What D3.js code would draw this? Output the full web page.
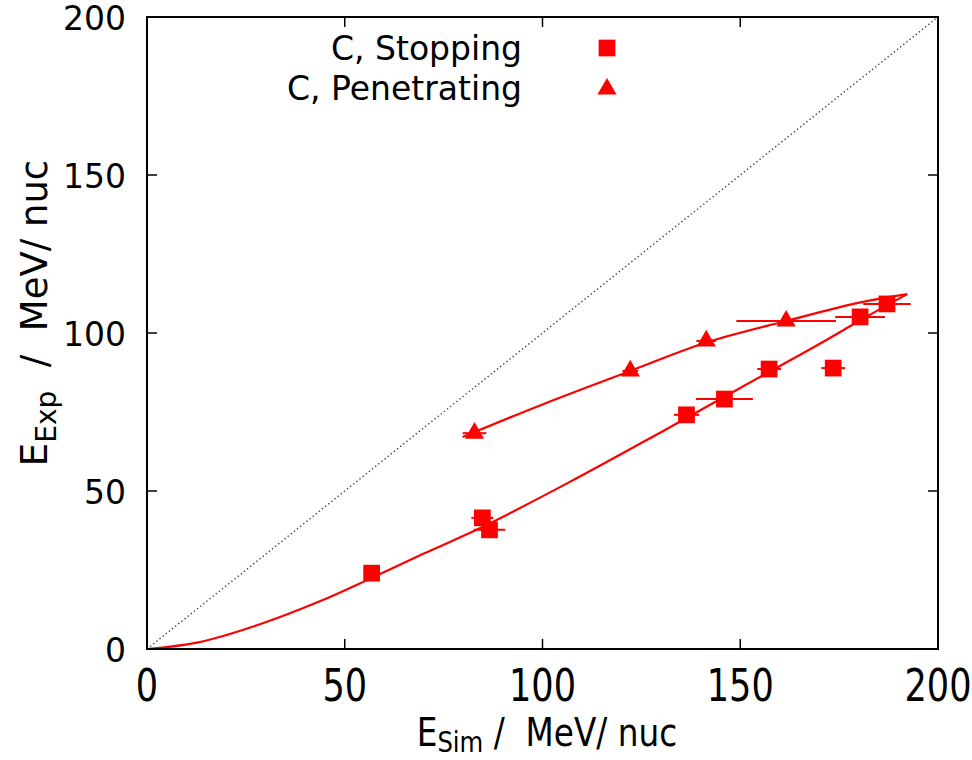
<!DOCTYPE html>
<html>
<head>
<meta charset="utf-8">
<script src="https://cdn.jsdelivr.net/npm/d3@7"></script>
<style>
  body { margin: 0; background: #fff; }
  text { font-family: "DejaVu Sans", sans-serif; white-space: pre; }
</style>
</head>
<body>
<svg id="chart" width="972" height="760"></svg>
<script>
// stopping ions (squares)
const stopX = [56.8, 84.8, 86.6, 136.4, 146.0, 157.3, 173.5, 180.3, 187.1];
const stopY = [24.0, 41.5, 37.7, 74.1, 79.1, 88.6, 88.9, 105.1, 109.2];
const stopXErr = [1.2, 2.8, 4.0, 3.2, 7.2, 3.0, 3.0, 6.3, 6.0];
const stopYErr = [0.8, 0.8, 0.8, 0.8, 0.8, 0.8, 0.8, 1.0, 1.5];

// penetrating ions (triangles)
const penX = [82.8, 122.2, 141.4, 161.6];
const penY = [68.3, 88.0, 97.5, 103.8];
const penXErr = [3.0, 2.0, 2.5, 12.6];
const penYErr = [1.2, 1.2, 1.6, 1.6];

// fit curves
const stopFitX = [0, 12.6, 28, 43.7, 56.8, 70, 84.8, 106.8, 129.5, 150, 170, 181, 192.2];
const stopFitY = [0, 2.0, 7.6, 15.1, 22.5, 30.2, 38.6, 52.8, 68.3, 82.6, 96.5, 104.5, 112.3];
const penFitX = [79.8, 100, 122.2, 141.4, 161.6, 180.1, 192.2];
const penFitY = [67.1, 77.4, 88.0, 97.0, 103.8, 109.6, 112.3];

const xTicks = [0, 50, 100, 150, 200];
const yTicks = [0, 50, 100, 150, 200];
const legendLabels = ["C, Stopping", "C, Penetrating"];

const red = "#ff0000";
const pL = 147, pR = 938, pT = 17, pB = 649;

const svg = d3.select('#chart');
const x = d3.scaleLinear().domain([0, 200]).range([pL, pR]);
const y = d3.scaleLinear().domain([0, 200]).range([pB, pT]);

// diagonal
svg.append('line')
  .attr('x1', x(0)).attr('y1', y(0)).attr('x2', x(200)).attr('y2', y(200))
  .attr('stroke', '#444').attr('stroke-width', 1.4).attr('stroke-dasharray', '1.4,2.6');

// fit curves
const line = d3.line().x(d => x(d[0])).y(d => y(d[1])).curve(d3.curveCatmullRom);
svg.append('path').datum(d3.zip(stopFitX, stopFitY))
  .attr('d', line).attr('fill', 'none').attr('stroke', red).attr('stroke-width', 2.2);
svg.append('path').datum(d3.zip(penFitX, penFitY))
  .attr('d', line).attr('fill', 'none').attr('stroke', red).attr('stroke-width', 2.2);

function errorBars(xs, ys, xe, ye){
  let g = svg.append('g').attr('stroke', red).attr('stroke-width', 2);
  xs.forEach((v, i) => {
    g.append('line').attr('x1', x(v - xe[i])).attr('x2', x(v + xe[i]))
      .attr('y1', y(ys[i])).attr('y2', y(ys[i]));
    g.append('line').attr('x1', x(v)).attr('x2', x(v))
      .attr('y1', y(ys[i] - ye[i])).attr('y2', y(ys[i] + ye[i]));
  });
}
errorBars(stopX, stopY, stopXErr, stopYErr);
errorBars(penX, penY, penXErr, penYErr);

const sq = d3.symbol().type(d3.symbolSquare).size(280);
const tri = d3.symbol().type(d3.symbolTriangle).size(160);

svg.append('g').selectAll('path').data(d3.zip(stopX, stopY)).join('path')
  .attr('d', sq).attr('fill', red)
  .attr('transform', d => `translate(${x(d[0])},${y(d[1])})`);
svg.append('g').selectAll('path').data(d3.zip(penX, penY)).join('path')
  .attr('d', tri).attr('fill', red)
  .attr('transform', d => `translate(${x(d[0])},${y(d[1])})`);

// frame + ticks (inward, all four sides)
svg.append('rect').attr('x', pL).attr('y', pT)
  .attr('width', pR - pL).attr('height', pB - pT)
  .attr('fill', 'none').attr('stroke', '#000').attr('stroke-width', 2);
const tk = svg.append('g').attr('stroke', '#000').attr('stroke-width', 1.5);
xTicks.slice(1, -1).forEach(t => {
  tk.append('line').attr('x1', x(t)).attr('x2', x(t)).attr('y1', pB).attr('y2', pB - 10);
  tk.append('line').attr('x1', x(t)).attr('x2', x(t)).attr('y1', pT).attr('y2', pT + 10);
});
yTicks.slice(1, -1).forEach(t => {
  tk.append('line').attr('y1', y(t)).attr('y2', y(t)).attr('x1', pL).attr('x2', pL + 10);
  tk.append('line').attr('y1', y(t)).attr('y2', y(t)).attr('x1', pR).attr('x2', pR - 10);
});

// tick labels
svg.append('g').selectAll('text').data(yTicks).join('text')
  .attr('x', 126).attr('y', d => y(d) + 1).attr('dy', '0.36em')
  .attr('text-anchor', 'end').attr('font-size', 33).text(d => d);
svg.append('g').selectAll('text').data(xTicks).join('text')
  .attr('transform', d => `translate(${x(d)},701) scale(0.78,1)`)
  .attr('text-anchor', 'middle').attr('font-size', 45).text(d => d);

// axis titles
const xt = svg.append('text').attr('transform', 'translate(547,746) scale(0.84,1)')
  .attr('text-anchor', 'middle').attr('font-size', 39);
xt.append('tspan').text('E');
xt.append('tspan').attr('font-size', 29).attr('dy', 6).text('Sim');
xt.append('tspan').attr('dy', -6).text(' /  MeV/ nuc');

const yt = svg.append('text').attr('transform', 'translate(47,313) rotate(-90)')
  .attr('text-anchor', 'middle').attr('font-size', 37);
yt.append('tspan').text('E');
yt.append('tspan').attr('font-size', 28).attr('dy', 9).text('Exp');
yt.append('tspan').attr('dy', -9).text('  /  MeV/ nuc');

// legend
const leg = svg.append('g');
leg.selectAll('text').data(legendLabels).join('text')
  .attr('x', 522).attr('y', (d, i) => 48 + i * 40).attr('dy', '0.36em')
  .attr('text-anchor', 'end').attr('font-size', 33).text(d => d);
leg.append('path').attr('d', sq).attr('fill', red).attr('transform', 'translate(607,48)');
leg.append('path').attr('d', tri).attr('fill', red).attr('transform', 'translate(607,89)');
</script>
</body>
</html>
